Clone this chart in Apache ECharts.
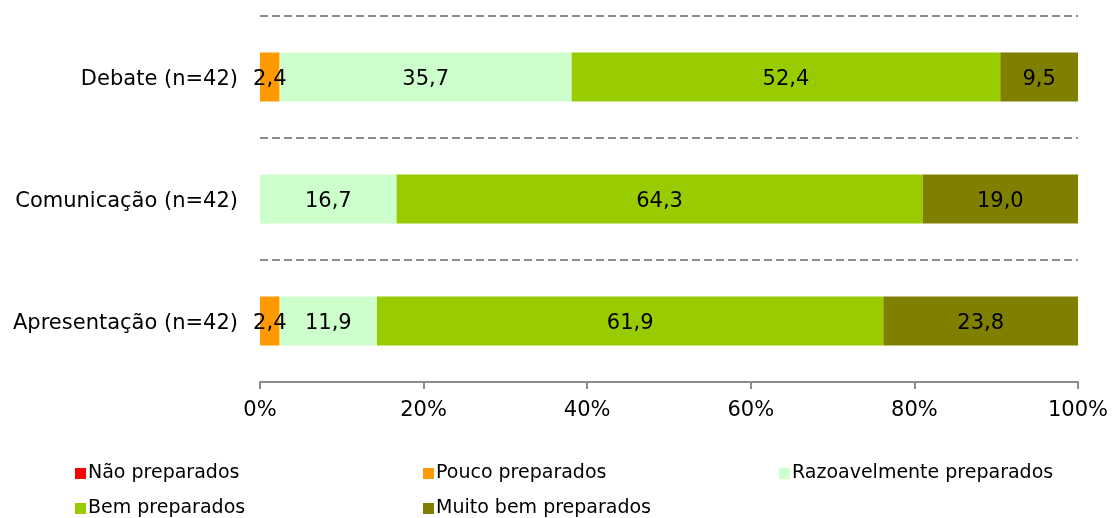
<!DOCTYPE html>
<html>
<head>
<meta charset="utf-8">
<script src="https://cdn.jsdelivr.net/npm/echarts@6/dist/echarts.min.js"></script>
<style>
  html, body { margin: 0; padding: 0; background: #fff; }
  #chart { width: 1113px; height: 518px; }
</style>
</head>
<body>
<div id="chart"></div>
<script>
const categories = ['Debate (n=42)', 'Comunicação (n=42)', 'Apresentação (n=42)'];
const seriesNames = ['Não preparados', 'Pouco preparados', 'Razoavelmente preparados', 'Bem preparados', 'Muito bem preparados'];
const naoPreparados = [0, 0, 0];
const poucoPreparados = [2.4, 0, 2.4];
const razoavelmente = [35.7, 16.7, 11.9];
const bemPreparados = [52.4, 64.3, 61.9];
const muitoBem = [9.5, 19.0, 23.8];
const xTicks = [0, 20, 40, 60, 80, 100];

const COLORS = ['#FF0000', '#FF9900', '#CCFFCC', '#99CC00', '#808000'];
const FONT = 'DejaVu Sans, Verdana, sans-serif';
const values = [naoPreparados, poucoPreparados, razoavelmente, bemPreparados, muitoBem];

const chart = echarts.init(document.getElementById('chart'));

const series = seriesNames.map((name, i) => ({
  name,
  type: 'bar',
  stack: 'total',
  barWidth: 49,
  data: values[i],
  itemStyle: { color: COLORS[i] },
  label: {
    show: true,
    position: 'inside',
    offset: [0, 3],
    color: '#000',
    fontSize: 21,
    fontFamily: FONT,
    formatter: p => p.value > 0 ? p.value.toFixed(1).replace('.', ',') : ''
  },
  emphasis: { disabled: true }
}));

// one legend per item so the columns line up like the original
const legendPos = [
  { left: 70, top: 459 }, { left: 418, top: 459 }, { left: 774, top: 459 },
  { left: 70, top: 494 }, { left: 418, top: 494 }
];
const legend = seriesNames.map((name, i) => ({
  data: [name],
  left: legendPos[i].left,
  top: legendPos[i].top,
  icon: 'rect',
  itemWidth: 11,
  itemHeight: 11,
  itemGap: 2,
  textStyle: { color: '#000', fontSize: 19, fontFamily: FONT, padding: [0, 0, 0, -3] },
  selectedMode: false
}));

chart.setOption({
  animation: false,
  backgroundColor: '#fff',
  grid: { left: 260, right: 35, top: 16, bottom: 136 },
  legend,
  xAxis: {
    type: 'value',
    min: 0,
    max: 100,
    interval: 20,
    axisLine: { show: true, lineStyle: { color: '#8c8c8c', width: 2 } },
    axisTick: { show: true, length: 7, lineStyle: { color: '#8c8c8c', width: 2 } },
    axisLabel: {
      color: '#000',
      fontSize: 21,
      fontFamily: FONT,
      margin: 18,
      formatter: v => xTicks.includes(v) ? v + '%' : ''
    },
    splitLine: { show: false }
  },
  yAxis: {
    type: 'category',
    data: categories,
    inverse: true,
    axisLine: { show: false },
    axisTick: { show: false },
    axisLabel: {
      color: '#000',
      fontSize: 21,
      fontFamily: FONT,
      margin: 22,
      formatter: v => '{t|' + v + '}',
      rich: { t: { fontSize: 21, fontFamily: FONT, color: '#000', padding: [6, 0, 0, 0] } }
    },
    splitLine: {
      show: true,
      lineStyle: { color: '#8c8c8c', width: 2, type: [8, 4] }
    }
  },
  series
});
</script>
</body>
</html>
